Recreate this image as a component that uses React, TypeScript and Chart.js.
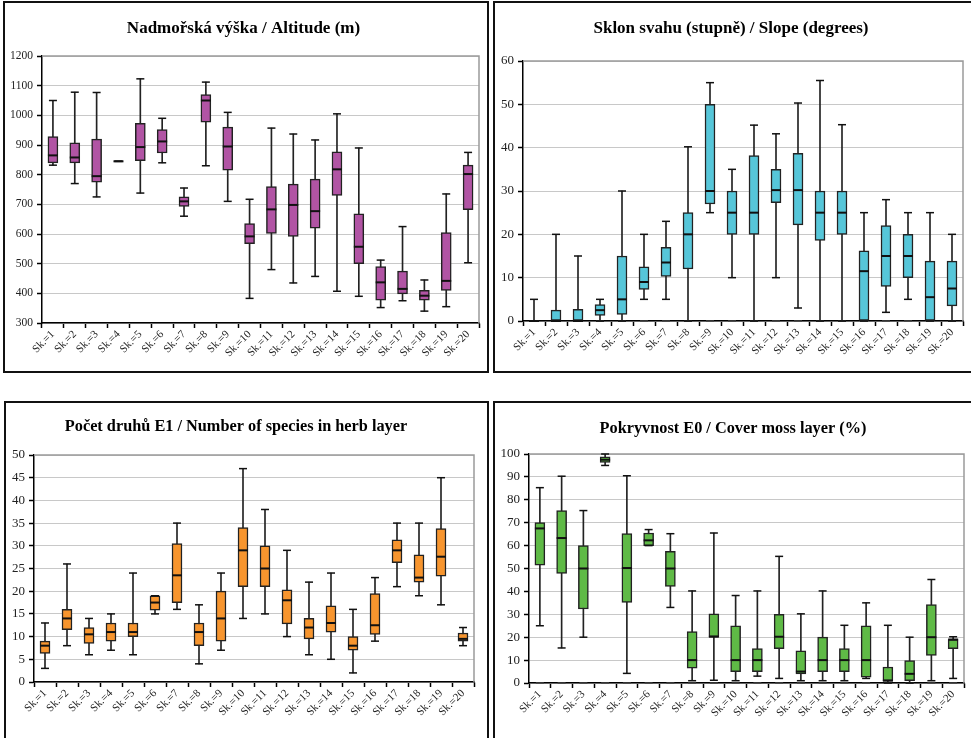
import React, { useEffect, useRef } from 'react';
import { Chart, registerables } from 'chart.js';

Chart.register(...registerables);

const categories = [
  'Sk.=1', 'Sk.=2', 'Sk.=3', 'Sk.=4', 'Sk.=5', 'Sk.=6', 'Sk.=7', 'Sk.=8', 'Sk.=9', 'Sk.=10',
  'Sk.=11', 'Sk.=12', 'Sk.=13', 'Sk.=14', 'Sk.=15', 'Sk.=16', 'Sk.=17', 'Sk.=18', 'Sk.=19', 'Sk.=20',
];

// Altitude (m)
const altMin = [832, 770, 725, 845, 738, 840, 660, 830, 710, 383, 480, 435, 457, 407, 390, 352, 375, 340, 355, 503];
const altQ1 = [840, 840, 775, 845, 847, 873, 693, 977, 815, 567, 602, 592, 620, 730, 500, 377, 398, 377, 410, 682];
const altMed = [865, 858, 795, 845, 893, 912, 710, 1050, 895, 592, 683, 698, 677, 818, 557, 437, 415, 392, 442, 802];
const altQ3 = [928, 907, 920, 845, 973, 952, 725, 1070, 960, 635, 760, 768, 785, 877, 668, 490, 475, 410, 605, 832];
const altMax = [1050, 1078, 1077, 845, 1123, 990, 755, 1112, 1010, 717, 957, 937, 917, 1005, 890, 512, 625, 445, 735, 875];

// Slope (degrees)
const slopeMin = [0, 0, 0, 0, 0, 5, 5, 0, 25, 10, 0, 10, 3, 0, 0, 0, 2, 5, 0, 0];
const slopeQ1 = [0, 0, 0, 1.3, 1.5, 7.3, 10.3, 12, 27, 20, 20, 27.3, 22.2, 18.6, 20, 0, 8, 10, 0, 3.5];
const slopeMed = [0, 0, 0, 2.5, 5, 9, 13.5, 20, 30, 25, 25, 30.2, 30.2, 25, 25, 11.5, 15, 15, 5.5, 7.5];
const slopeQ3 = [0, 2.5, 2.7, 3.8, 15, 12.5, 17, 25, 50, 30, 38.2, 35, 38.7, 30, 30, 16.2, 22, 20, 13.8, 13.8];
const slopeMax = [5, 20, 15, 5, 30, 20, 23, 40.2, 55, 35, 45.2, 43.2, 50.3, 55.5, 45.3, 25, 28, 25, 25, 20];

// Number of species in herb layer
const herbMin = [3, 8, 6, 7, 6, 15, 16, 4, 7, 14, 15, 10, 6, 5, 2, 9, 21, 19, 17, 8];
const herbQ1 = [6.3, 11.5, 8.5, 9, 10, 15.8, 17.5, 8, 9, 21, 21, 12.8, 9.5, 11, 7, 10.5, 26.3, 22, 23.3, 9];
const herbMed = [8, 14, 10.5, 11, 11, 17.5, 23.5, 11, 14, 29, 25, 18, 12, 13, 8, 12.5, 29, 23, 27.6, 9.5];
const herbQ3 = [9, 16, 12, 13, 13, 19, 30.5, 13, 20, 34, 30, 20.3, 14, 16.8, 10, 19.5, 31.3, 28, 33.8, 10.8];
const herbMax = [13, 26, 14, 15, 24, 19, 35, 17, 24, 47, 38, 29, 22, 24, 16, 23, 35, 35, 45, 12];

// Cover moss layer (%)
const mossMin = [25, 15.3, 20, 95, 4.2, 60, 33, 1, 1.2, 1, 3, 2, 1, 1, 1, 2, 0, 0, 1, 2];
const mossQ1 = [51.5, 47.8, 32.3, 96.3, 35.2, 60, 42.2, 6.5, 20.2, 5, 5, 15, 4, 5, 5, 2.5, 1, 1, 12, 15];
const mossMed = [67.5, 63.3, 50, 97.5, 50.2, 62.3, 50, 10, 20.2, 10, 10, 20.2, 5, 10, 10, 10, 1, 4, 20, 19];
const mossQ3 = [70, 75.3, 60, 98.8, 65.2, 65.5, 57.5, 22.5, 30.2, 25, 15, 30, 14, 20, 15, 25, 7, 9.8, 34.2, 19];
const mossMax = [85.3, 90.3, 75.3, 100, 90.5, 67, 65.2, 40.2, 65.5, 38.2, 40.2, 55.3, 30.2, 40.2, 25.2, 35, 25.2, 20, 45.2, 20.2];

// small marks on the zero line
const zeroMarks = [0, 0, 0, 0, 0, 0, 0, 0, 0, 0, 0, 0, 0, 0, 0, 0, 0, 0, 0, 0];

const SERIF = '"Liberation Serif", "Times New Roman", serif';

const plotFrame = {
  id: 'plotFrame',
  beforeDatasetsDraw(chart: any) {
    const { ctx, chartArea: a } = chart;
    ctx.save();
    ctx.strokeStyle = '#9a9a9a';
    ctx.lineWidth = 1.5;
    ctx.beginPath();
    ctx.moveTo(a.left, a.top);
    ctx.lineTo(a.right, a.top);
    ctx.lineTo(a.right, a.bottom);
    ctx.stroke();
    ctx.restore();
  },
};

type PanelProps = {
  title: string;
  titleSize: number;
  color: string;
  min: number[];
  q1: number[];
  med: number[];
  q3: number[];
  max: number[];
  zero?: number[];
  yMin: number;
  yMax: number;
  step: number;
  tickSize: number;
  labelRoom: number;
  left: number;
  top: number;
  width: number;
  height: number;
  areaLeft: number;
  areaTop: number;
  areaRight: number;
  areaBottom: number;
  titleX: number;
  titleY: number;
};

function BoxPanel(p: PanelProps) {
  const ref = useRef<HTMLCanvasElement>(null);
  const cw = p.width - 4;
  const ch = p.height - 4;

  useEffect(() => {
    if (!ref.current) return;
    const lh = p.titleSize * 1.2;
    const padLeft = Math.min(2 * p.titleX - p.areaRight, p.areaLeft - p.labelRoom);
    const padRight = cw - p.areaRight;

    const capStyle = {
      type: 'line',
      showLine: false,
      pointStyle: 'line',
      pointRadius: 4,
      pointHoverRadius: 4,
      pointBorderColor: '#111',
      pointBorderWidth: 1.5,
      borderColor: '#111',
      clip: false,
    };

    const datasets: any[] = [
      {
        type: 'bar',
        data: categories.map((_, i) => [p.min[i], p.max[i]]),
        backgroundColor: '#222',
        borderWidth: 0,
        barThickness: 1,
        grouped: false,
        order: 6,
      },
      {
        type: 'bar',
        data: categories.map((_, i) => [p.q1[i], p.q3[i]]),
        backgroundColor: p.color,
        borderColor: '#222',
        borderWidth: 1.5,
        borderSkipped: false,
        barThickness: 10,
        grouped: false,
        order: 5,
      },
      { ...capStyle, data: p.min, order: 3 },
      { ...capStyle, data: p.max, order: 3 },
      {
        ...capStyle,
        data: p.med,
        pointRadius: 5,
        pointHoverRadius: 5,
        pointBorderWidth: 2,
        order: 1,
      },
    ];
    if (p.zero) {
      datasets.push({ ...capStyle, data: p.zero, pointBorderColor: '#444', order: 4 });
    }

    const chart = new Chart(ref.current, {
      type: 'bar',
      data: { labels: categories, datasets },
      options: {
        responsive: false,
        animation: false,
        events: [],
        layout: { padding: { left: padLeft, right: padRight, top: 0, bottom: 0 } },
        plugins: {
          legend: { display: false },
          tooltip: { enabled: false },
          title: {
            display: true,
            text: p.title,
            color: '#000',
            font: { family: SERIF, size: p.titleSize, weight: 'bold', lineHeight: 1.2 },
            padding: { top: p.titleY - lh / 2, bottom: p.areaTop - p.titleY - lh / 2 },
          },
        },
        scales: {
          x: {
            offset: true,
            grid: {
              offset: true,
              drawOnChartArea: false,
              drawTicks: true,
              tickLength: 5,
              tickColor: '#000',
              tickWidth: 1.5,
            },
            border: { color: '#000', width: 1.5 },
            ticks: {
              autoSkip: false,
              minRotation: 45,
              maxRotation: 45,
              padding: 0,
              color: '#222',
              font: { family: SERIF, size: 11 },
            },
            afterFit: (s: any) => {
              s.height = ch - p.areaBottom;
            },
          },
          y: {
            min: p.yMin,
            max: p.yMax,
            grid: { color: '#c8c8c8', lineWidth: 1, tickColor: '#000', tickLength: 5, tickWidth: 1.5 },
            border: { color: '#000', width: 1.5 },
            ticks: {
              stepSize: p.step,
              padding: 4,
              color: '#222',
              font: { family: SERIF, size: p.tickSize },
              callback: (v: any) => String(v),
            },
            afterFit: (s: any) => {
              s.width = p.areaLeft - padLeft;
            },
          },
        },
      } as any,
      plugins: [plotFrame],
    });
    return () => chart.destroy();
  }, []);

  return (
    <div
      style={{
        position: 'absolute',
        left: p.left,
        top: p.top,
        width: p.width,
        height: p.height,
        border: '2px solid #111',
        boxSizing: 'border-box',
        background: '#fff',
      }}
    >
      <canvas ref={ref} width={cw} height={ch} style={{ display: 'block', width: cw, height: ch }} />
    </div>
  );
}

export default function App() {
  return (
    <div
      style={{
        position: 'fixed',
        left: 0,
        top: 0,
        width: 971,
        height: 738,
        overflow: 'hidden',
        background: '#fff',
      }}
    >
      <BoxPanel
        title="Nadmořská výška / Altitude (m)"
        titleSize={17}
        color="#b154a4"
        min={altMin}
        q1={altQ1}
        med={altMed}
        q3={altQ3}
        max={altMax}
        yMin={300}
        yMax={1200}
        step={100}
        tickSize={11.5}
        labelRoom={34}
        left={3}
        top={1}
        width={486}
        height={372}
        areaLeft={37}
        areaTop={53}
        areaRight={474}
        areaBottom={320}
        titleX={241}
        titleY={26}
      />
      <BoxPanel
        title="Sklon svahu (stupně) / Slope (degrees)"
        titleSize={17}
        color="#56c6d9"
        min={slopeMin}
        q1={slopeQ1}
        med={slopeMed}
        q3={slopeQ3}
        max={slopeMax}
        zero={zeroMarks}
        yMin={0}
        yMax={60}
        step={10}
        tickSize={13}
        labelRoom={24}
        left={493}
        top={1}
        width={480}
        height={372}
        areaLeft={28}
        areaTop={58}
        areaRight={468}
        areaBottom={318}
        titleX={240}
        titleY={26}
      />
      <BoxPanel
        title="Počet druhů E1 / Number of species in herb layer"
        titleSize={16.3}
        color="#f7952e"
        min={herbMin}
        q1={herbQ1}
        med={herbMed}
        q3={herbQ3}
        max={herbMax}
        yMin={0}
        yMax={50}
        step={5}
        tickSize={13}
        labelRoom={24}
        left={4}
        top={401}
        width={485}
        height={342}
        areaLeft={28}
        areaTop={52}
        areaRight={468}
        areaBottom={279}
        titleX={230}
        titleY={24}
      />
      <BoxPanel
        title="Pokryvnost E0 / Cover moss layer (%)"
        titleSize={16.3}
        color="#5fba46"
        min={mossMin}
        q1={mossQ1}
        med={mossMed}
        q3={mossQ3}
        max={mossMax}
        zero={zeroMarks}
        yMin={0}
        yMax={100}
        step={10}
        tickSize={13}
        labelRoom={30}
        left={493}
        top={401}
        width={480}
        height={342}
        areaLeft={34}
        areaTop={51}
        areaRight={472}
        areaBottom={280}
        titleX={242}
        titleY={26}
      />
    </div>
  );
}
